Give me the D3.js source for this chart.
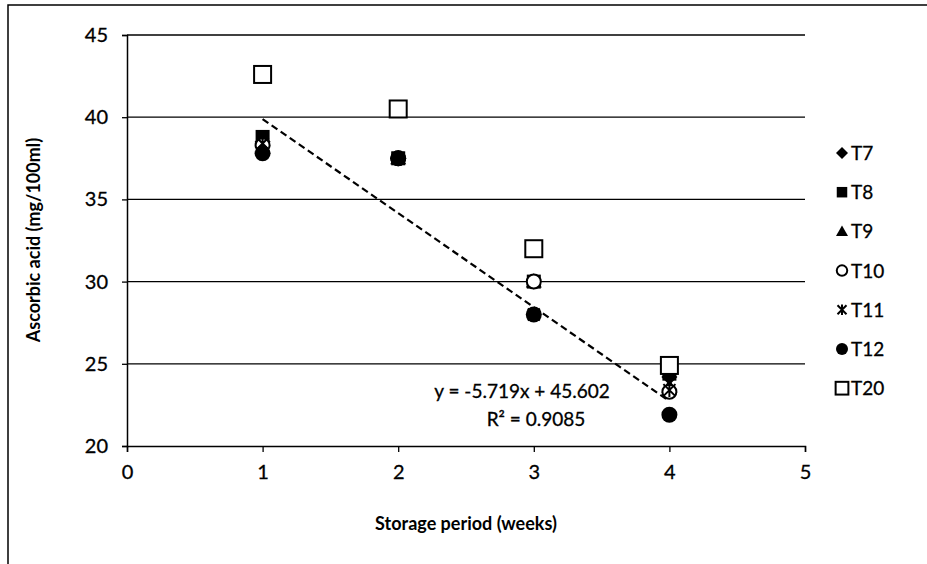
<!DOCTYPE html>
<html><head><meta charset="utf-8">
<script src="https://cdn.jsdelivr.net/npm/d3@7"></script>
<style>body{margin:0;background:#fff}svg{display:block}</style>
</head><body>
<script>
const weeks = [1, 2, 3, 4];
const seriesNames = ["T7", "T8", "T9", "T10", "T11", "T12", "T20"];
const T7 = [38.5, 37.5, 30.0, 24.2];
const T8 = [38.8, 37.5, 30.0, 24.4];
const T9 = [38.6, 37.5, 30.0, 23.6];
const T10 = [38.3, 37.5, 30.0, 23.3];
const T11 = [38.4, 37.5, 28.0, 23.4];
const T12 = [37.8, 37.5, 28.0, 21.9];
const T20 = [42.6, 40.5, 32.0, 24.9];
const xTicks = [0, 1, 2, 3, 4, 5];
const yTicks = [20, 25, 30, 35, 40, 45];
const trendSlope = -5.719, trendIntercept = 45.602;
const trendText = ["y = -5.719x + 45.602", "R\u00b2 = 0.9085"];
const xTitle = "Storage period (weeks)";
const yTitle = "Ascorbic acid (mg/100ml)";

const values = [T7, T8, T9, T10, T11, T12, T20];
const W = 927, H = 564;
const svg = d3.select("body").append("svg").attr("width", W).attr("height", H);
const font = "Lato, 'Open Sans', sans-serif";

// outer frame
svg.append("path").attr("d", `M8,${H} L8,5 L${W},5`).attr("fill", "none").attr("stroke", "#000").attr("stroke-width", 1.5);

const x = d3.scaleLinear().domain([0, 5]).range([127, 805]);
const y = d3.scaleLinear().domain([20, 45]).range([446, 35]);

// gridlines
svg.append("g").selectAll("line").data(yTicks.filter(d => d > 20)).join("line")
  .attr("x1", x(0)).attr("x2", x(5)).attr("y1", d => y(d)).attr("y2", d => y(d))
  .attr("stroke", "#000").attr("stroke-width", 1.3);

// axes
const yAxis = svg.append("g").attr("transform", `translate(${x(0)},0)`)
  .call(d3.axisLeft(y).tickValues(yTicks).tickFormat(d3.format("d")).tickSize(5).tickPadding(14));
const xAxis = svg.append("g").attr("transform", `translate(0,${y(20)})`)
  .call(d3.axisBottom(x).tickValues(xTicks).tickFormat(d3.format("d")).tickSize(6).tickPadding(13));
[xAxis, yAxis].forEach(a => {
  a.select(".domain").attr("stroke", "#000").attr("stroke-width", 1.5);
  a.selectAll(".tick line").attr("stroke", "#000").attr("stroke-width", 1.3);
  a.selectAll("text").attr("font-family", font).attr("font-size", 20).attr("fill", "#000")
    .attr("stroke", "#000").attr("stroke-width", 0.3);
});

// titles
svg.append("text").attr("x", 466).attr("y", 530).attr("text-anchor", "middle")
  .attr("font-family", font).attr("font-weight", "bold").attr("font-size", 18).text(xTitle);
svg.append("text").attr("transform", "translate(40,240) rotate(-90)").attr("text-anchor", "middle")
  .attr("font-family", font).attr("font-weight", "bold").attr("font-size", 18).text(yTitle);

// markers
function marker(g, name, s) {
  const k = s / 16;
  switch (name) {
    case "T7":
      g.append("path").attr("d", `M0,${-8*k}L${8*k},0L0,${8*k}L${-8*k},0Z`).attr("fill", "#000"); break;
    case "T8":
      g.append("rect").attr("x", -7 * k).attr("y", -7 * k).attr("width", 14 * k).attr("height", 14 * k).attr("fill", "#000"); break;
    case "T9":
      g.append("path").attr("d", `M0,${-8*k}L${8*k},${6*k}L${-8*k},${6*k}Z`).attr("fill", "#000"); break;
    case "T10":
      g.append("circle").attr("r", 7 * k).attr("fill", "#fff").attr("stroke", "#000").attr("stroke-width", 2); break;
    case "T11":
      g.append("path").attr("d", `M${-6*k},${-6*k}L${6*k},${6*k}M${6*k},${-6*k}L${-6*k},${6*k}M0,${-7*k}L0,${7*k}`)
        .attr("stroke", "#000").attr("stroke-width", 2).attr("fill", "none"); break;
    case "T12":
      g.append("circle").attr("r", 8 * k).attr("fill", "#000"); break;
    case "T20":
      g.append("rect").attr("x", -8.5 * k).attr("y", -8.5 * k).attr("width", 17 * k).attr("height", 17 * k)
        .attr("fill", "#fff").attr("stroke", "#000").attr("stroke-width", 2); break;
  }
}

seriesNames.forEach((name, i) => {
  values[i].forEach((v, j) => {
    const g = svg.append("g").attr("transform", `translate(${x(weeks[j])},${y(v)})`);
    marker(g, name, 16);
  });
});

// trendline
svg.append("line")
  .attr("x1", x(1)).attr("y1", y(trendSlope * 1 + trendIntercept))
  .attr("x2", x(4)).attr("y2", y(trendSlope * 4 + trendIntercept))
  .attr("stroke", "#000").attr("stroke-width", 2.2).attr("stroke-dasharray", "7,4");

svg.append("text").attr("x", 522).attr("y", 398).attr("text-anchor", "middle")
  .attr("font-family", font).attr("font-size", 19).attr("stroke", "#000").attr("stroke-width", 0.3).text(trendText[0]);
svg.append("text").attr("x", 536).attr("y", 426).attr("text-anchor", "middle")
  .attr("font-family", font).attr("font-size", 19).attr("stroke", "#000").attr("stroke-width", 0.3).text(trendText[1]);

// legend
const leg = svg.append("g");
seriesNames.forEach((name, i) => {
  const yy = 153 + i * 39.2;
  const g = leg.append("g").attr("transform", `translate(842,${yy})`);
  marker(g, name, 12);
  leg.append("text").attr("x", 851).attr("y", yy + 7).attr("font-family", font).attr("font-size", 19)
    .attr("stroke", "#000").attr("stroke-width", 0.3).text(name);
});
</script>
</body></html>
